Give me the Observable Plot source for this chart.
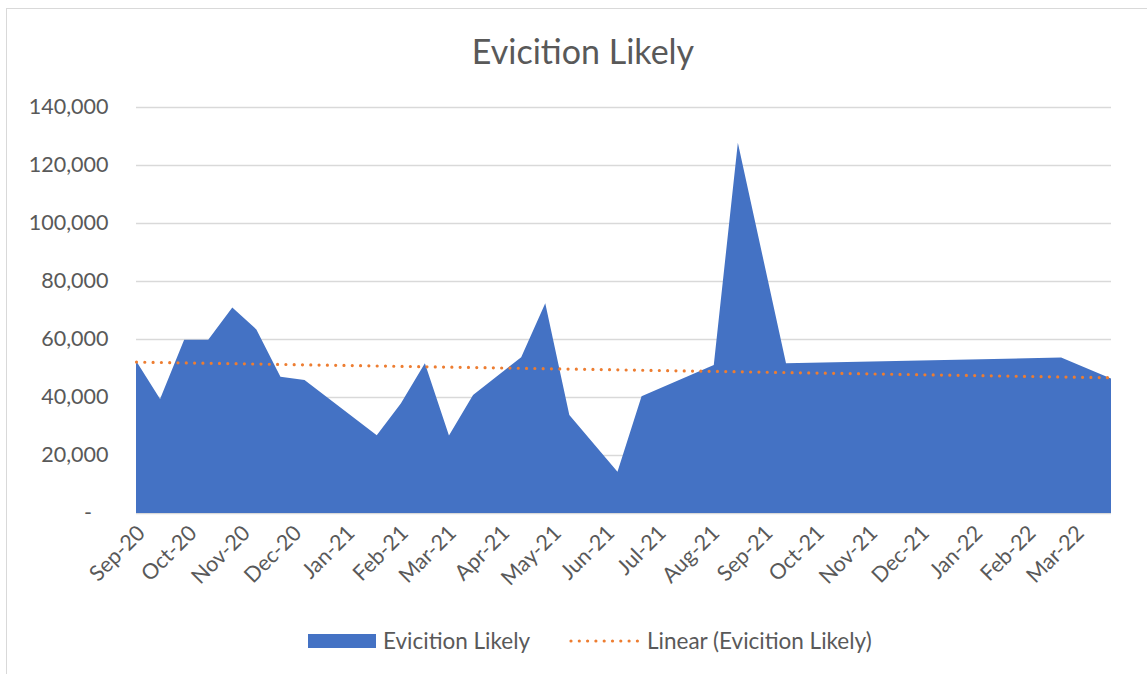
<!DOCTYPE html>
<html>
<head>
<meta charset="utf-8">
<script src="https://cdn.jsdelivr.net/npm/d3@7"></script>
<script src="https://cdn.jsdelivr.net/npm/@observablehq/plot@0.6"></script>
<style>
  html, body { margin: 0; padding: 0; background: #fff; }
  #chart { position: relative; width: 1147px; height: 674px; overflow: hidden; font-family: Lato, "Open Sans", sans-serif; color: #595959; }
  #frame { position: absolute; left: 6px; top: 8px; width: 1200px; height: 700px; border-left: 1.5px solid #d9d9d9; border-top: 1.5px solid #d9d9d9; }
  #title { position: absolute; left: 0; top: 31px; width: 1166px; text-align: center; font-size: 34px; line-height: 1.2; z-index: 2; }
  #plot { position: absolute; left: 0; top: 0; z-index: 1; }
  .leg { position: absolute; font-size: 22.5px; line-height: 1.2; top: 627px; z-index: 2; white-space: nowrap; }
  #sw { position: absolute; left: 308px; top: 634px; width: 68px; height: 14px; background: #4472C4; z-index: 2; }
  #dl { position: absolute; left: 568px; top: 634px; z-index: 2; }
</style>
</head>
<body>
<div id="chart">
  <div id="frame"></div>
  <div id="title"></div>
  <div id="plot"></div>
  <div id="sw"></div>
  <div class="leg" id="l1" style="left:383px"></div>
  <svg id="dl" width="76" height="14"><line x1="3" y1="7" x2="73" y2="7" stroke="#ED7D31" stroke-width="3.2" stroke-linecap="round" stroke-dasharray="0,8.3"/></svg>
  <div class="leg" id="l2" style="left:647px"></div>
</div>
<script>
const titleText = "Evicition Likely";
const seriesName = "Evicition Likely";
const trendName = "Linear (Evicition Likely)";

const dates = [
  "2020-09-02", "2020-09-16", "2020-09-30", "2020-10-14", "2020-10-28", "2020-11-11",
  "2020-11-25", "2020-12-09", "2021-01-20", "2021-02-03", "2021-02-17", "2021-03-03",
  "2021-03-17", "2021-04-14", "2021-04-28", "2021-05-12", "2021-06-09", "2021-06-23",
  "2021-08-04", "2021-08-18", "2021-09-15", "2022-02-22", "2022-03-23"
];
const values = [
  52500, 39300, 59700, 59700, 70900, 63300,
  47000, 45900, 26800, 37800, 51600, 26700,
  40700, 53700, 72300, 33800, 14200, 40300,
  51000, 127700, 51600, 53600, 46400
];
// Linear trendline (first and last date)
const trendDates = ["2020-09-02", "2022-03-23"];
const trendValues = [52200, 46800];

const xTicks = [
  "2020-09-02", "2020-10-02", "2020-11-02", "2020-12-02", "2021-01-02", "2021-02-02",
  "2021-03-02", "2021-04-02", "2021-05-02", "2021-06-02", "2021-07-02", "2021-08-02",
  "2021-09-02", "2021-10-02", "2021-11-02", "2021-12-02", "2022-01-02", "2022-02-02",
  "2022-03-02"
];
const yTicks = [0, 20000, 40000, 60000, 80000, 100000, 120000, 140000];

const data = dates.map((d, i) => ({date: new Date(d), value: values[i]}));
const trend = trendDates.map((d, i) => ({date: new Date(d), value: trendValues[i]}));
const xTickDates = xTicks.map(d => new Date(d));
const fmtX = d3.utcFormat("%b-%y");
const fmtY = d => d === 0 ? "-\u00a0\u00a0\u00a0" : d3.format(",")(d);

document.getElementById("title").textContent = titleText;
document.getElementById("l1").textContent = seriesName;
document.getElementById("l2").textContent = trendName;

const plot = Plot.plot({
  width: 1147,
  height: 674,
  marginTop: 107,
  marginBottom: 161,
  marginLeft: 136,
  marginRight: 36,
  style: {fontFamily: "Lato, 'Open Sans', sans-serif", fontSize: "21.5px", color: "#595959", background: "transparent", overflow: "visible"},
  x: {type: "utc", domain: [data[0].date, data[data.length - 1].date]},
  y: {domain: [0, 140000]},
  marks: [
    Plot.ruleY(yTicks, {stroke: "#d9d9d9", strokeWidth: 1.5}),
    Plot.areaY(data, {x: "date", y: "value", fill: "#4472C4"}),
    Plot.line(trend, {x: "date", y: "value", stroke: "#ED7D31", strokeWidth: 3.2, strokeDasharray: "0,8.3", strokeLinecap: "round"}),
    Plot.axisY({ticks: yTicks, tickFormat: fmtY, tickSize: 0, tickPadding: 28, label: null}),
    Plot.axisX({ticks: xTickDates, tickFormat: fmtX, tickSize: 0, tickPadding: 12, tickRotate: -45, dx: 5, dy: 4, label: null})
  ]
});
document.getElementById("plot").appendChild(plot);
</script>
</body>
</html>
